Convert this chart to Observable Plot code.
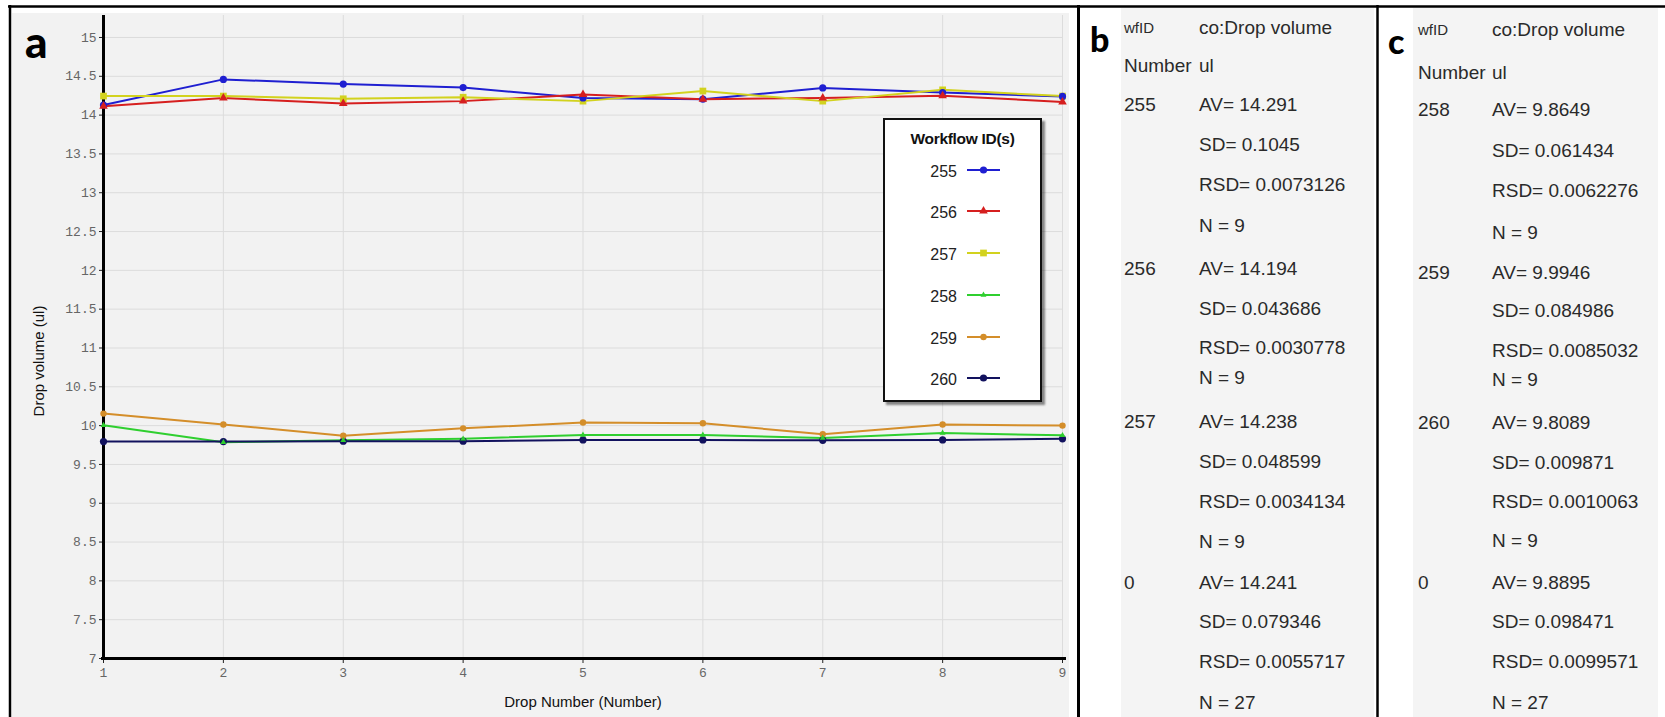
<!DOCTYPE html>
<html>
<head>
<meta charset="utf-8">
<script src="https://cdn.jsdelivr.net/npm/d3@7"></script>
<script src="https://cdn.jsdelivr.net/npm/@observablehq/plot@0.6"></script>
<style>
  body { margin: 0; background: #fff; }
  #fig { position: relative; width: 1665px; height: 717px; overflow: hidden; font-family: "Liberation Sans", Arial, sans-serif; }
  #fig > svg { position: absolute; left: 0; top: 0; }
  #fig g[aria-label$="tick label"], #fig g[aria-label$="tick label"] text { font-family: "Liberation Mono", "DejaVu Sans Mono", monospace !important; font-size: 13px !important; fill: #666 !important; }
  .legend { position: absolute; left: 883px; top: 118px; width: 155px; height: 280px; background: #fff; border: 2px solid #111; box-shadow: 3px 3px 2px rgba(0,0,0,0.45); }
  .legend .title { position: absolute; left: 0; right: 0; top: 11px; text-align: center; font: bold 15.5px "Liberation Sans", Arial, sans-serif; letter-spacing: -0.3px; color: #111; line-height: 16px; }
  .legend .entry { position: absolute; left: 0; width: 155px; height: 20px; }
  .legend .entry span { position: absolute; right: 83px; top: 1px; font: 16px "Liberation Sans", Arial, sans-serif; color: #222; line-height: 18px; }
  .legend .entry svg { position: absolute; left: 81px; top: 0; }
</style>
</head>
<body>
<div id="fig"></div>
<script>
// Drop volumes (ul) per drop number, one array per workflow
const dropNumbers = [1, 2, 3, 4, 5, 6, 7, 8, 9];
const workflowIds = ["255", "256", "257", "258", "259", "260"];
const volume255 = [14.13, 14.46, 14.40, 14.355, 14.22, 14.205, 14.35, 14.29, 14.24];
const volume256 = [14.115, 14.22, 14.15, 14.18, 14.265, 14.205, 14.22, 14.25, 14.17];
const volume257 = [14.245, 14.245, 14.21, 14.23, 14.18, 14.31, 14.18, 14.325, 14.245];
const volume258 = [10.005, 9.785, 9.81, 9.83, 9.88, 9.88, 9.84, 9.905, 9.875];
const volume259 = [10.155, 10.015, 9.87, 9.965, 10.04, 10.03, 9.89, 10.015, 10.0];
const volume260 = [9.795, 9.795, 9.8, 9.8, 9.815, 9.815, 9.81, 9.815, 9.83];
const yTicks = [7, 7.5, 8, 8.5, 9, 9.5, 10, 10.5, 11, 11.5, 12, 12.5, 13, 13.5, 14, 14.5, 15];
const seriesColors = ["#1f1fd1", "#d61f1f", "#d2d21e", "#2fcf2f", "#d48e2a", "#12125e"];
const seriesSymbols = ["circle", "triangle", "square", "triangle", "circle", "circle"];
const seriesDotRadius = [3.6, 3.2, 3.8, 2.2, 3.2, 3.6];

// Summary statistics, panel b
const panelBIds = ["255", "256", "257", "0"];
const panelBAv = ["14.291", "14.194", "14.238", "14.241"];
const panelBSd = ["0.1045", "0.043686", "0.048599", "0.079346"];
const panelBRsd = ["0.0073126", "0.0030778", "0.0034134", "0.0055717"];
const panelBN = ["9", "9", "9", "27"];
// Summary statistics, panel c
const panelCIds = ["258", "259", "260", "0"];
const panelCAv = ["9.8649", "9.9946", "9.8089", "9.8895"];
const panelCSd = ["0.061434", "0.084986", "0.009871", "0.098471"];
const panelCRsd = ["0.0062276", "0.0085032", "0.0010063", "0.0099571"];
const panelCN = ["9", "9", "9", "27"];

const volumes = [volume255, volume256, volume257, volume258, volume259, volume260];
const rows = [];
workflowIds.forEach((id, i) => dropNumbers.forEach((n, j) => rows.push({id, drop: n, vol: volumes[i][j]})));

const W = 1665, H = 717;
const fig = d3.select("#fig");

// ---- background: panels, frame lines, panel letters, statistics text ----
const bg = fig.append("svg").attr("width", W).attr("height", H);
bg.append("rect").attr("x", 12).attr("y", 13).attr("width", 1057).attr("height", 704).attr("fill", "#f2f2f2");
bg.append("rect").attr("x", 1121).attr("y", 8).attr("width", 253).attr("height", 709).attr("fill", "#f4f4f4");
bg.append("rect").attr("x", 1413).attr("y", 8).attr("width", 245).attr("height", 709).attr("fill", "#f4f4f4");
const frameLines = [
  {x1: 8, y1: 6.5, x2: W, y2: 6.5, w: 2.5},
  {x1: 10, y1: 5, x2: 10, y2: H, w: 2.5},
  {x1: 1078.5, y1: 5, x2: 1078.5, y2: H, w: 3},
  {x1: 1377.5, y1: 5, x2: 1377.5, y2: H, w: 2.5}
];
bg.selectAll("line.frame").data(frameLines).join("line")
  .attr("x1", d => d.x1).attr("y1", d => d.y1).attr("x2", d => d.x2).attr("y2", d => d.y2)
  .attr("stroke", "#000").attr("stroke-width", d => d.w);

const letters = [
  {t: "a", x: 25, y: 57.5, s: 44},
  {t: "b", x: 1090, y: 52, s: 34},
  {t: "c", x: 1388, y: 54, s: 34}
];
bg.selectAll("text.letter").data(letters).join("text")
  .attr("x", d => d.x).attr("y", d => d.y)
  .attr("font-family", "Lato, 'Open Sans', sans-serif").attr("font-weight", 900)
  .attr("font-size", d => d.s).attr("fill", "#000").text(d => d.t);

function panelRows(ids, av, sd, rsd, n) {
  const out = [["wfID", "co:Drop volume"], ["Number", "ul"]];
  ids.forEach((id, i) => {
    out.push([id, "AV= " + av[i]]);
    out.push(["", "SD= " + sd[i]]);
    out.push(["", "RSD= " + rsd[i]]);
    out.push(["", "N = " + n[i]]);
  });
  return out;
}
const panelBCenters = [27, 64.5, 104, 144, 183.5, 224.5, 268, 307.5, 347, 377, 421, 461, 501, 540.5, 582, 621, 661, 702];
const panelCCenters = [29, 72, 108.5, 149.5, 190, 232, 272, 310, 350, 379, 422, 462, 501, 540, 582, 621, 661, 702];

function drawPanel(lines, centers, col1, col2) {
  const g = bg.append("g").attr("font-family", "'Liberation Sans', Arial, sans-serif").attr("fill", "#2a2a2a");
  lines.forEach((r, i) => {
    const small = i === 0;
    if (r[0]) g.append("text").attr("x", col1).attr("y", centers[i] + (small ? 5.5 : 7))
      .attr("font-size", small ? 15 : 19).text(r[0]);
    g.append("text").attr("x", col2).attr("y", centers[i] + 7).attr("font-size", 19).text(r[1]);
  });
}
drawPanel(panelRows(panelBIds, panelBAv, panelBSd, panelBRsd, panelBN), panelBCenters, 1124, 1199);
drawPanel(panelRows(panelCIds, panelCAv, panelCSd, panelCRsd, panelCN), panelCCenters, 1418, 1492);

// ---- line chart, panel a ----
const tickFont = "'Liberation Mono', 'DejaVu Sans Mono', monospace";
const titleFont = "'Liberation Sans', Arial, sans-serif";
const chart = Plot.plot({
  width: 1078,
  height: H,
  marginLeft: 103,
  marginRight: 16,
  marginTop: 15,
  marginBottom: 59,
  style: {background: "transparent", fontFamily: tickFont, fontSize: "13px", color: "#666", overflow: "visible"},
  x: {domain: [dropNumbers[0], dropNumbers[dropNumbers.length - 1]]},
  y: {domain: [yTicks[0], 15.283]},
  color: {domain: workflowIds, range: seriesColors},
  symbol: {domain: workflowIds, range: seriesSymbols},
  r: {type: "identity"},
  marks: [
    Plot.gridX(dropNumbers, {stroke: "#dcdcdc", strokeOpacity: 1}),
    Plot.gridY(yTicks, {stroke: "#dcdcdc", strokeOpacity: 1}),
    Plot.axisX(dropNumbers, {tickSize: 5, tickPadding: 4, label: null, stroke: "#222", fill: "#666", fontFamily: tickFont, fontSize: 13, tickFormat: d => String(d)}),
    Plot.axisY(yTicks, {tickSize: 4, tickPadding: 3, label: null, stroke: "#222", fill: "#666", fontFamily: tickFont, fontSize: 13, tickFormat: d => String(d)}),
    Plot.ruleX([dropNumbers[0]], {stroke: "#000", strokeWidth: 3}),
    Plot.ruleY([yTicks[0]], {stroke: "#000", strokeWidth: 3, insetLeft: -2, insetRight: -4}),
    Plot.line(rows, {x: "drop", y: "vol", z: "id", stroke: "id", strokeWidth: 2}),
    Plot.dot(rows, {x: "drop", y: "vol", fill: "id", symbol: "id", r: d => seriesDotRadius[workflowIds.indexOf(d.id)], stroke: "none"}),
    Plot.text(["Drop volume (ul)"], {frameAnchor: "left", textAnchor: "middle", lineAnchor: "middle", dx: -64, dy: 24, rotate: -90, fontFamily: titleFont, fontSize: 15, fill: "#111"}),
    Plot.text(["Drop Number (Number)"], {frameAnchor: "bottom", textAnchor: "middle", lineAnchor: "middle", dy: 44, fontFamily: titleFont, fontSize: 15, fill: "#111"})
  ]
});
fig.node().appendChild(chart);

// ---- legend ----
const legend = fig.append("div").attr("class", "legend");
legend.append("div").attr("class", "title").text("Workflow ID(s)");
const symbolTypes = {circle: d3.symbolCircle, triangle: d3.symbolTriangle, square: d3.symbolSquare};
workflowIds.forEach((id, i) => {
  const e = legend.append("div").attr("class", "entry").style("top", (41.7 + i * 41.7) + "px");
  e.append("span").text(id);
  const s = e.append("svg").attr("width", 36).attr("height", 20);
  s.append("line").attr("x1", 1).attr("x2", 34).attr("y1", 8).attr("y2", 8)
    .attr("stroke", seriesColors[i]).attr("stroke-width", 2);
  const r = seriesDotRadius[i];
  s.append("path").attr("transform", "translate(17.5,8)")
    .attr("d", d3.symbol(symbolTypes[seriesSymbols[i]], Math.PI * r * r)())
    .attr("fill", seriesColors[i]);
});
</script>
</body>
</html>
